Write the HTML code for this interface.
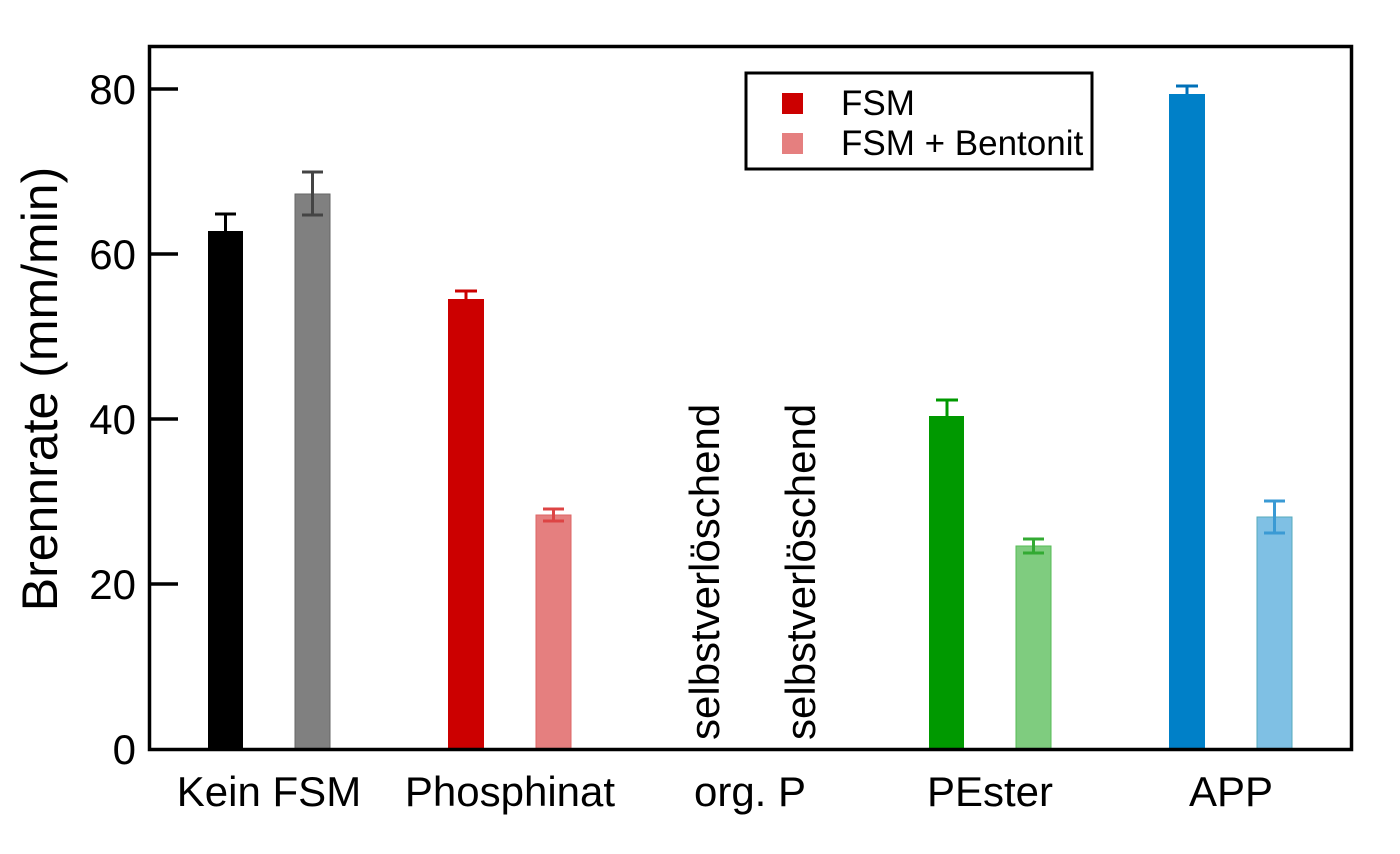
<!DOCTYPE html>
<html><head><meta charset="utf-8"><style>html,body{margin:0;padding:0;background:#fff}</style></head>
<body>
<svg width="1400" height="849" viewBox="0 0 1400 849" xmlns="http://www.w3.org/2000/svg" font-family="Liberation Sans, sans-serif">
<rect width="1400" height="849" fill="#fff"/>
<rect x="208" y="231" width="35" height="518" fill="#000"/>
<rect x="295" y="194" width="35" height="555" fill="#808080" stroke="#666" stroke-width="1"/>
<rect x="448" y="299" width="36" height="450" fill="#cc0000"/>
<rect x="536" y="515" width="35" height="234" fill="#e57f7f" stroke="#d66" stroke-width="1"/>
<rect x="929" y="416" width="35" height="333" fill="#009900"/>
<rect x="1016" y="546" width="35" height="203" fill="#7fcc7f" stroke="#5b5" stroke-width="1"/>
<rect x="1169" y="94" width="36" height="655" fill="#0080c8"/>
<rect x="1257" y="517" width="35" height="232" fill="#7fc0e4" stroke="#5ab" stroke-width="1"/>
<g stroke-width="3" fill="none">
<path d="M225.5 231V214M215 214H236" stroke="#000"/>
<path d="M312.5 215V172M302 172H323M302 215H323" stroke="#444"/>
<path d="M466 299V291M455 291H477" stroke="#cc0000"/>
<path d="M553.5 521V509M543 509H564M543 521H564" stroke="#d44"/>
<path d="M947 416V400M936 400H958" stroke="#009900"/>
<path d="M1033.5 553V539M1023 539H1044M1023 553H1044" stroke="#3a3"/>
<path d="M1187 94V86M1176 86H1198" stroke="#0070b8"/>
<path d="M1274.5 533V501M1264 501H1285M1264 533H1285" stroke="#3a9ad4"/>
</g>
<rect x="149.5" y="46.5" width="1202" height="703" fill="none" stroke="#000" stroke-width="3.5"/>
<g stroke="#000" stroke-width="3.5">
<path d="M148 89H178M148 254H178M148 419H178M148 584H178"/>
</g>
<g font-size="42" text-anchor="end" fill="#000">
<text x="136" y="104">80</text>
<text x="136" y="269">60</text>
<text x="136" y="434">40</text>
<text x="136" y="599">20</text>
<text x="136" y="764">0</text>
</g>
<text transform="translate(57,389) rotate(-90)" font-size="50" text-anchor="middle">Brennrate (mm/min)</text>
<g font-size="42" text-anchor="middle">
<text x="269" y="806">Kein FSM</text>
<text x="510" y="806">Phosphinat</text>
<text x="750" y="806">org. P</text>
<text x="990" y="806">PEster</text>
<text x="1231" y="806">APP</text>
</g>
<g font-size="42">
<text transform="translate(719,740) rotate(-90)">selbstverlöschend</text>
<text transform="translate(815,740) rotate(-90)">selbstverlöschend</text>
</g>
<rect x="746" y="73" width="346" height="96" fill="#fff" stroke="#000" stroke-width="3"/>
<rect x="782" y="93" width="21" height="21" fill="#cc0000"/>
<rect x="782" y="133" width="21" height="21" fill="#e57f7f"/>
<text x="841" y="115" font-size="35">FSM</text>
<text x="841" y="155" font-size="35">FSM + Bentonit</text>
</svg>
</body></html>
